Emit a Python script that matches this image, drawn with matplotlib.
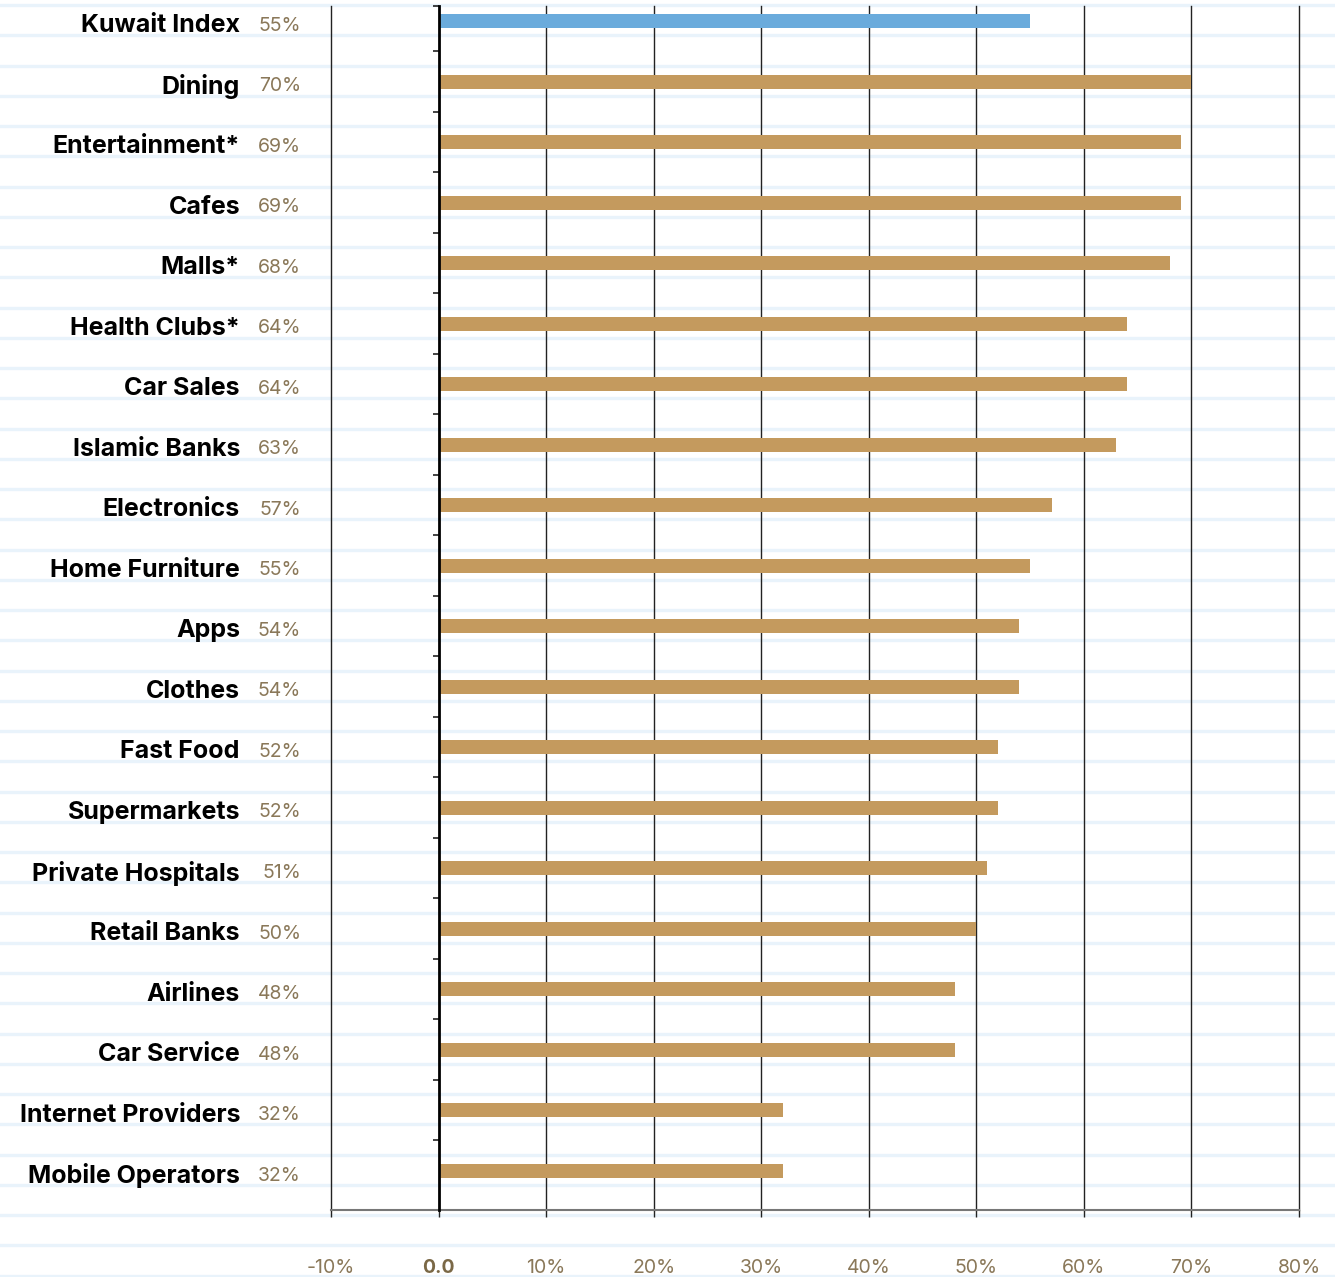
import numpy as np
import matplotlib.pyplot as plt
from matplotlib import transforms
from matplotlib.ticker import FixedLocator, FixedFormatter

plt.rcParams['font.family'] = ['Inter', 'DejaVu Sans']

categories = ['Kuwait Index', 'Dining', 'Entertainment*', 'Cafes', 'Malls*',
              'Health Clubs*', 'Car Sales', 'Islamic Banks', 'Electronics',
              'Home Furniture', 'Apps', 'Clothes', 'Fast Food', 'Supermarkets',
              'Private Hospitals', 'Retail Banks', 'Airlines', 'Car Service',
              'Internet Providers', 'Mobile Operators']
scores = [55, 70, 69, 69, 68, 64, 64, 63, 57, 55, 54, 54, 52, 52, 51, 50,
          48, 48, 32, 32]
x_ticks = [-10, 0, 10, 20, 30, 40, 50, 60, 70, 80]
x_tick_labels = ['-10%', '0.0', '10%', '20%', '30%', '40%', '50%', '60%',
                 '70%', '80%']

W, H = 1335, 1277
fig = plt.figure(figsize=(W / 100, H / 100), dpi=100)

# ruled-paper background stripes
bg = fig.add_axes([0, 0, 1, 1], zorder=-10)
bg.set_xlim(0, W)
bg.set_ylim(H, 0)
bg.axis('off')
for yy in np.arange(5, H + 1, 30.25):
    bg.axhline(yy, color='#e9f3fb', lw=2.4)

ax = fig.add_axes([331 / W, 1 - 1210 / H, (1299 - 331) / W, (1210 - 6) / H])
ax.patch.set_alpha(0)

y = np.arange(len(categories))
colors = ['#6aabdc'] + ['#c49a5e'] * (len(categories) - 1)
ax.barh(y, scores, height=0.23, color=colors, zorder=3)

ax.set_xlim(-10, 80)
ax.set_ylim(19.65, -0.25)

# vertical gridlines at every 10%
for xv in x_ticks:
    if xv != 0:
        ax.axvline(xv, color='#222222', lw=1, zorder=1, clip_on=False)

for side in ['top', 'right']:
    ax.spines[side].set_visible(False)
ax.spines['left'].set_position(('data', 0))
ax.spines['left'].set_linewidth(2)
ax.spines['left'].set_color('black')
ax.spines['left'].set_zorder(4)
ax.spines['bottom'].set_color('#777777')
ax.spines['bottom'].set_linewidth(1.5)

# small ticks on the zero line between categories
y_bounds = [-0.25] + list(np.arange(0.5, len(categories) - 1, 1))
ax.yaxis.set_major_locator(FixedLocator(y_bounds))
ax.yaxis.set_major_formatter(FixedFormatter([]))
ax.tick_params(axis='y', length=4, width=1.2, color='#222222')

ax.xaxis.set_major_locator(FixedLocator(x_ticks))
ax.xaxis.set_major_formatter(FixedFormatter(x_tick_labels))
ax.tick_params(axis='x', length=5, width=1, color='#222222', pad=30,
               labelsize=14, labelcolor='#8a7859')
for lbl in ax.get_xticklabels():
    if lbl.get_text() == '0.0':
        lbl.set_fontweight('bold')
        lbl.set_color('#7a6846')

# category names and their scores to the left of the plot
trans = transforms.blended_transform_factory(fig.transFigure, ax.transData)
for yi, name, val in zip(y, categories, scores):
    ax.text(240 / W, yi + 0.08, name, transform=trans, ha='right',
            va='center', fontsize=18, fontweight='bold', color='black')
    ax.text(301 / W, yi + 0.08, f'{val}%', transform=trans, ha='right',
            va='center', fontsize=14, color='#8a7859')

plt.savefig('out.png', dpi=100)
